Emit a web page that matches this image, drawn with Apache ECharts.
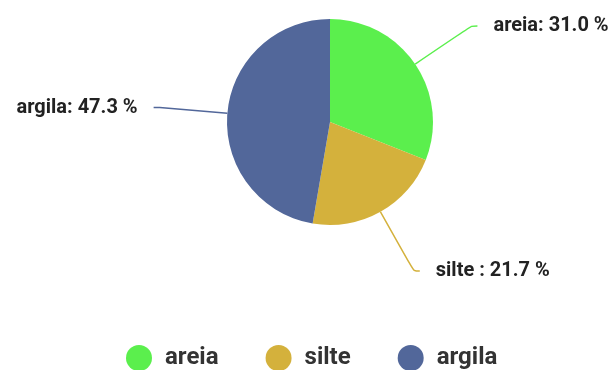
<!DOCTYPE html>
<html>
<head>
<meta charset="utf-8">
<script src="https://cdn.jsdelivr.net/npm/echarts@6/dist/echarts.min.js"></script>
<style>
html, body { margin: 0; padding: 0; background: #fff; }
#chart { width: 614px; height: 370px; }
</style>
</head>
<body>
<div id="chart"></div>
<script>
var categories = ['areia', 'silte', 'argila'];
var values = [31.0, 21.7, 47.3];
var colors = ['#5bef4d', '#d4b13c', '#52679a'];

var pieData = [];
for (var i = 0; i < categories.length; i++) {
    pieData.push({ name: categories[i], value: values[i] });
}

var myChart = echarts.init(document.getElementById('chart'));
var option = {
    color: colors,
    textStyle: { fontFamily: 'Roboto' },
    legend: {
        data: categories,
        left: 121,
        top: 340,
        icon: 'circle',
        itemWidth: 26,
        itemHeight: 26,
        itemGap: 47,
        textStyle: {
            fontSize: 24,
            fontWeight: 'bold',
            color: '#333',
            padding: [0, 0, 0, 8]
        }
    },
    series: [
        {
            type: 'pie',
            center: [330, 122],
            radius: 103,
            data: pieData,
            label: {
                formatter: function (p) {
                    var sep = p.name === 'silte' ? ' : ' : ': ';
                    return p.name + sep + p.percent.toFixed(1) + ' %';
                },
                fontSize: 20,
                fontWeight: 'bold',
                color: '#222',
                overflow: 'none',
                distanceToLabelLine: 16
            },
            labelLine: {
                length: 68,
                length2: 6,
                smooth: true,
                lineStyle: { width: 1.5 }
            }
        }
    ]
};
myChart.setOption(option);
</script>
</body>
</html>
